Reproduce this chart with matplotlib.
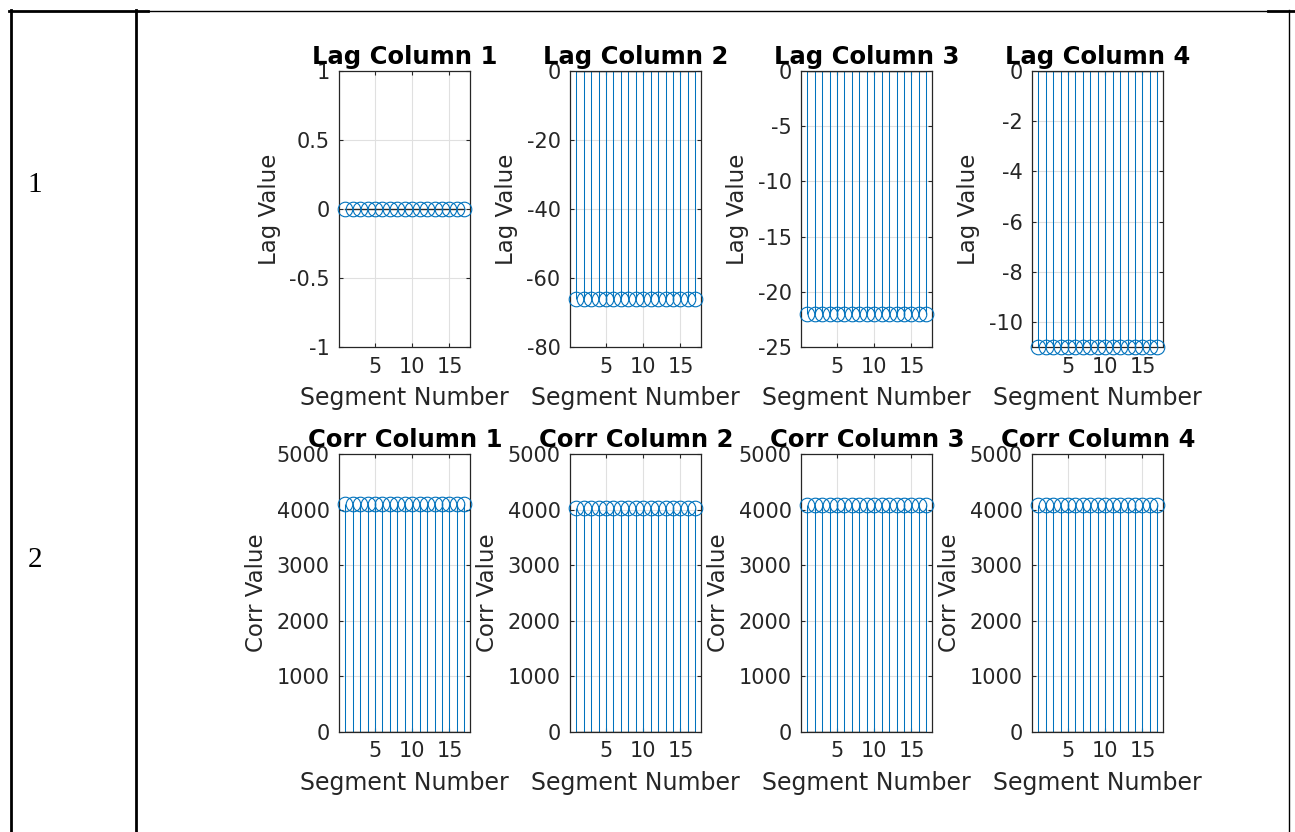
import matplotlib
matplotlib.use('Agg')
import matplotlib.pyplot as plt
from matplotlib.lines import Line2D

plt.rcParams['axes.unicode_minus'] = False

# Данные: номера сегментов и значения по колонкам
segments = [1, 2, 3, 4, 5, 6, 7, 8, 9, 10, 11, 12, 13, 14, 15, 16, 17]

lag_col1 = [0, 0, 0, 0, 0, 0, 0, 0, 0, 0, 0, 0, 0, 0, 0, 0, 0]
lag_col2 = [-66, -66, -66, -66, -66, -66, -66, -66, -66, -66, -66, -66, -66, -66, -66, -66, -66]
lag_col3 = [-22, -22, -22, -22, -22, -22, -22, -22, -22, -22, -22, -22, -22, -22, -22, -22, -22]
lag_col4 = [-11, -11, -11, -11, -11, -11, -11, -11, -11, -11, -11, -11, -11, -11, -11, -11, -11]

corr_col1 = [4096, 4096, 4096, 4096, 4096, 4096, 4096, 4096, 4096, 4096, 4096, 4096, 4096, 4096, 4096, 4096, 4096]
corr_col2 = [4032, 4032, 4032, 4032, 4032, 4032, 4032, 4032, 4032, 4032, 4032, 4032, 4032, 4032, 4032, 4032, 4032]
corr_col3 = [4082, 4082, 4082, 4082, 4082, 4082, 4082, 4082, 4082, 4082, 4082, 4082, 4082, 4082, 4082, 4082, 4082]
corr_col4 = [4078, 4078, 4078, 4078, 4078, 4078, 4078, 4078, 4078, 4078, 4078, 4078, 4078, 4078, 4078, 4078, 4078]

lag_data = [lag_col1, lag_col2, lag_col3, lag_col4]
corr_data = [corr_col1, corr_col2, corr_col3, corr_col4]

lag_ylims = [(-1, 1), (-80, 0), (-25, 0), (-11, 0)]
lag_yticks = [[-1, -0.5, 0, 0.5, 1], [-80, -60, -40, -20, 0],
              [-25, -20, -15, -10, -5, 0], [-10, -8, -6, -4, -2, 0]]
lag_yticklabels = [['-1', '-0.5', '0', '0.5', '1'], None, None, None]
corr_ylim = (0, 5000)
corr_yticks = [0, 1000, 2000, 3000, 4000, 5000]

W, H = 1295, 832
blue = '#0072BD'
dark = '#262626'
fs = 15


def px_axes(fig, left, top, right, bottom):
    return fig.add_axes([left / W, 1 - bottom / H, (right - left) / W, (bottom - top) / H])


def stem_panel(ax, x, y, ylim, yticks, title, ylabel, ticklabels=None):
    markerline, stemlines, baseline = ax.stem(x, y, linefmt='-', markerfmt='o', basefmt='-')
    stemlines.set_color(blue)
    stemlines.set_linewidth(0.75)
    markerline.set_markerfacecolor('none')
    markerline.set_markeredgecolor(blue)
    markerline.set_markersize(10.5)
    markerline.set_markeredgewidth(0.8)
    markerline.set_clip_on(False)
    markerline.set_zorder(4)
    baseline.set_color(dark)
    baseline.set_linewidth(1.0)
    ax.set_xlim(0.2, 17.8)
    ax.set_ylim(*ylim)
    ax.set_xticks([5, 10, 15])
    ax.set_yticks(yticks)
    if ticklabels is not None:
        ax.set_yticklabels(ticklabels)
    ax.grid(True, color='#e0e0e0', lw=0.8)
    ax.set_axisbelow(True)
    ax.tick_params(direction='in', length=3, width=0.8, colors=dark, labelsize=fs,
                   top=True, right=True, pad=7)
    for sp in ax.spines.values():
        sp.set_color(dark)
        sp.set_linewidth(0.9)
    ax.set_title(title, fontsize=17.5, fontweight='bold', pad=5)
    ax.set_xlabel('Segment Number', fontsize=17, color=dark, labelpad=7)
    ax.set_ylabel(ylabel, fontsize=16.5, color=dark, labelpad=6)


def main():
    fig = plt.figure(figsize=(W / 100, H / 100), dpi=100)
    lefts = [339.3, 570.3, 801.3, 1032.3]
    width = 131

    for i, left in enumerate(lefts):
        ax = px_axes(fig, left, 71, left + width, 347)
        stem_panel(ax, segments, lag_data[i], lag_ylims[i], lag_yticks[i],
                   f'Lag Column {i + 1}', 'Lag Value', lag_yticklabels[i])

        ax2 = px_axes(fig, left, 454.3, left + width, 731.7)
        stem_panel(ax2, segments, corr_data[i], corr_ylim, corr_yticks,
                   f'Corr Column {i + 1}', 'Corr Value')

    # Рамка таблицы
    def hline(x0, x1, y, lw):
        fig.add_artist(Line2D([x0 / W, x1 / W], [1 - y / H, 1 - y / H], color='black', lw=lw))

    def vline(x, y0, y1, lw):
        fig.add_artist(Line2D([x / W, x / W], [1 - y0 / H, 1 - y1 / H], color='black', lw=lw))

    hline(9, 148, 11, 2.0)
    hline(148, 1268, 10.5, 1.0)
    hline(1268, 1295, 11, 2.0)
    vline(10.5, 10, 832, 2.0)
    vline(135.5, 10, 832, 2.0)
    vline(1289, 10, 832, 1.0)

    fig.text(35 / W, 1 - 185 / H, '1', fontsize=21, family='Liberation Serif', ha='center', va='center')
    fig.text(35 / W, 1 - 560 / H, '2', fontsize=21, family='Liberation Serif', ha='center', va='center')

    fig.savefig('out.png', dpi=100)


if __name__ == '__main__':
    main()
